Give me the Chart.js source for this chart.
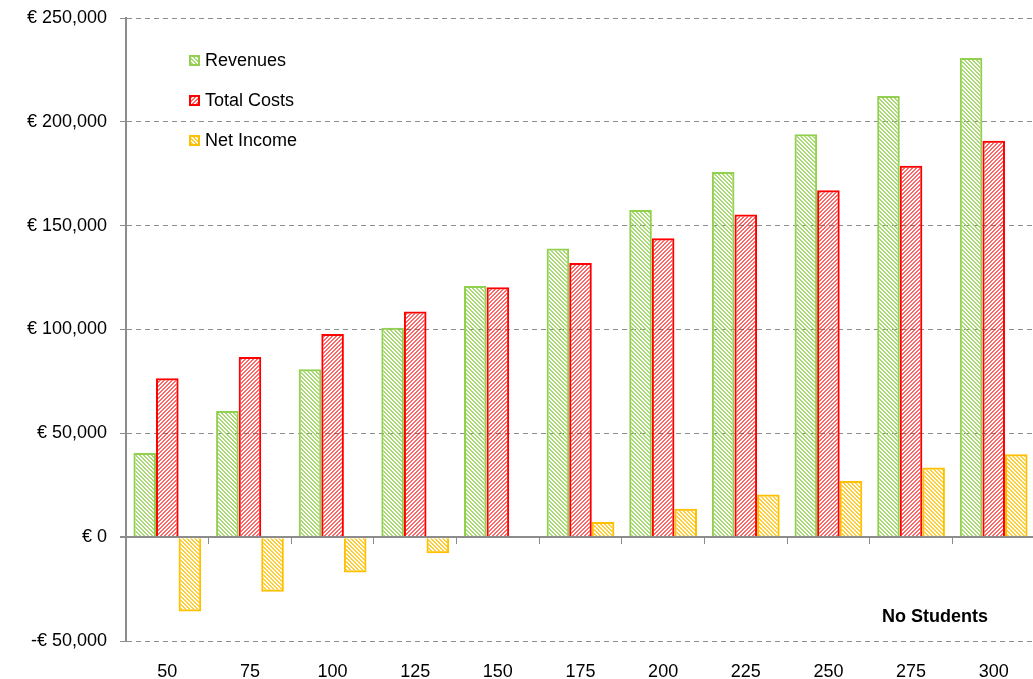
<!DOCTYPE html>
<html>
<head>
<meta charset="utf-8">
<script src="https://cdn.jsdelivr.net/npm/chart.js@4.4.1/dist/chart.umd.min.js"></script>
<style>
  html, body { margin: 0; padding: 0; background: #fff; overflow: hidden; }
  #wrap { width: 1033px; height: 679px; overflow: hidden; }
</style>
</head>
<body>
<!-- plot runs a couple px past the right edge, like the original -->
<div id="wrap"><canvas id="myChart" width="1035" height="679"></canvas></div>
<script>
// values (EUR)
const students = ['50', '75', '100', '125', '150', '175', '200', '225', '250', '275', '300'];
const revenues = [40500, 60700, 80900, 100800, 120900, 139000, 157500, 175800, 194000, 212400, 230700];
const totalCosts = [76500, 86800, 97800, 108700, 120300, 132000, 143900, 155400, 167000, 178900, 190900];
const netIncome = [-35800, -26300, -17000, -7700, 500, 7300, 13700, 20500, 27000, 33600, 39900];
const seriesNames = ['Revenues', 'Total Costs', 'Net Income'];
const axisTitle = 'No Students';

const FONT = "'Liberation Sans', Arial, sans-serif";
const GRID = '#8c8c8c';

// diagonal hatch tile, dir 1 = "\" , dir -1 = "/"
const hatch = (color, dir) => {
  const c = document.createElement('canvas');
  c.width = 4; c.height = 4;
  const g = c.getContext('2d');
  g.fillStyle = color;
  for (let i = 0; i < 4; i++) {
    const x = dir > 0 ? i : 3 - i;
    g.fillRect(x, i, 1, 1);
    g.fillRect((x + 1) % 4, i, 1, 1);
  }
  return g.createPattern(c, 'repeat');
};

const colors = ['#92D050', '#FF0000', '#FFC000'];
const fills = [hatch('rgba(146,208,80,0.8)', 1), hatch('rgba(255,0,0,0.6)', -1), hatch('rgba(255,192,0,0.8)', 1)];

const fmtEuro = v => {
  if (v === 0) return '€ 0';
  return (v < 0 ? '-€ ' : '€ ') + Math.abs(v).toLocaleString('en-US');
};

// legend inside the plot + the "No Students" caption
const extras = {
  id: 'extras',
  afterDraw(chart) {
    const ctx = chart.ctx;
    const area = chart.chartArea;
    ctx.save();
    ctx.font = '18px ' + FONT;
    ctx.textBaseline = 'middle';
    chart.data.datasets.forEach((ds, i) => {
      const x = area.left + 63;
      const y = area.top + 42 + i * 40;
      ctx.fillStyle = ds.backgroundColor;
      ctx.fillRect(x, y - 5, 11, 11);
      ctx.strokeStyle = ds.borderColor;
      ctx.lineWidth = 2;
      ctx.strokeRect(x + 1, y - 4, 9, 9);
      ctx.fillStyle = '#000';
      ctx.textAlign = 'left';
      ctx.fillText(ds.label, x + 16, y + 1);
    });
    ctx.font = 'bold 18px ' + FONT;
    ctx.textAlign = 'right';
    ctx.fillText(axisTitle, 988, area.bottom - 24);
    ctx.restore();
  }
};

const ctx = document.getElementById('myChart').getContext('2d');
const myChart = new Chart(ctx, {
  type: 'bar',
  data: {
    labels: students,
    datasets: [revenues, totalCosts, netIncome].map((d, i) => ({
      label: seriesNames[i],
      data: d,
      backgroundColor: fills[i],
      borderColor: colors[i],
      borderWidth: 2,
      categoryPercentage: 0.82,
      barPercentage: 1.0,
    }))
  },
  options: {
    responsive: false,
    animation: false,
    layout: { padding: { top: 18, right: 0, left: 0, bottom: 0 } },
    plugins: {
      legend: { display: false },
      tooltip: { enabled: false },
    },
    scales: {
      x: {
        position: { y: 0 },
        offset: true,
        grid: { display: true, drawOnChartArea: false, drawTicks: true, tickLength: 6, color: GRID, offset: true },
        border: { display: true, color: GRID, width: 2 },
        ticks: { display: false },
      },
      x2: {
        type: 'category',
        position: 'bottom',
        labels: students,
        offset: true,
        grid: { display: false },
        border: { display: false },
        ticks: { color: '#000', font: { family: FONT, size: 18 }, padding: 12, maxRotation: 0 },
        afterFit: s => { s.height = 38; },
      },
      y: {
        min: -50000,
        max: 250000,
        ticks: { stepSize: 50000, callback: fmtEuro, color: '#000', font: { family: FONT, size: 18 }, padding: 13 },
        grid: {
          color: GRID,
          lineWidth: c => (c.tick && c.tick.value === 0 ? 2 : 1),
          tickLength: 6,
          tickColor: GRID,
          tickBorderDash: [],
        },
        border: { display: true, color: GRID, width: 2, dash: c => (c.tick && c.tick.value === 0 ? [] : [5, 4]) },
        afterFit: s => { s.width = 126; s.paddingTop = 0; s.paddingBottom = 0; },
      }
    }
  },
  plugins: [extras]
});
</script>
</body>
</html>
